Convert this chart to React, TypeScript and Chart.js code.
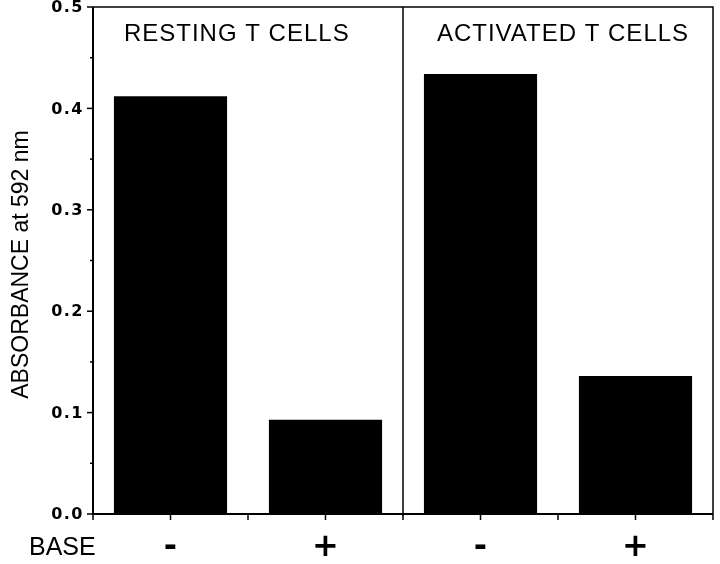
import React, { useEffect, useRef } from "react";
import { Chart, registerables } from "chart.js";

Chart.register(...registerables);

const categories = ["-", "+", "-", "+"];
const absorbance = [0.412, 0.093, 0.434, 0.136];
const yTickValues = [0.0, 0.1, 0.2, 0.3, 0.4, 0.5];
const yTickLabels = ["0.0", "0.1", "0.2", "0.3", "0.4", "0.5"];
const yMinorValues = [0.05, 0.15, 0.25, 0.35, 0.45];
const panelTitles = ["RESTING T CELLS", "ACTIVATED T CELLS"];
const yTitle = "ABSORBANCE at 592 nm";
const xRowLabel = "BASE";

const decorPlugin = {
  id: "decor",
  afterDraw(chart: any) {
    const ctx = chart.ctx as CanvasRenderingContext2D;
    const area = chart.chartArea;
    const xs = chart.scales.x;
    const ys = chart.scales.y;
    ctx.save();
    ctx.strokeStyle = "#000";
    ctx.fillStyle = "#000";

    // frame
    ctx.lineWidth = 1.5;
    ctx.beginPath();
    ctx.moveTo(area.left, area.top);
    ctx.lineTo(area.right, area.top);
    ctx.lineTo(area.right, area.bottom);
    ctx.stroke();
    ctx.lineWidth = 2;
    ctx.beginPath();
    ctx.moveTo(area.left, area.top);
    ctx.lineTo(area.left, area.bottom);
    ctx.lineTo(area.right, area.bottom);
    ctx.stroke();

    // y ticks
    ctx.lineWidth = 1.5;
    yTickValues.forEach((v) => {
      const y = ys.getPixelForValue(v);
      ctx.beginPath();
      ctx.moveTo(area.left - 6, y);
      ctx.lineTo(area.left, y);
      ctx.stroke();
    });
    yMinorValues.forEach((v) => {
      const y = ys.getPixelForValue(v);
      ctx.beginPath();
      ctx.moveTo(area.left - 3, y);
      ctx.lineTo(area.left, y);
      ctx.stroke();
    });

    // y tick labels
    ctx.font = "bold 16px 'DejaVu Sans'";
    (ctx as any).letterSpacing = "1.5px";
    ctx.textAlign = "right";
    ctx.textBaseline = "middle";
    yTickValues.forEach((v, i) => {
      const y = ys.getPixelForValue(v);
      ctx.fillText(yTickLabels[i], area.left - 9, y + 1);
    });
    (ctx as any).letterSpacing = "0px";

    // x ticks at centers and boundaries
    const n = categories.length;
    const step = n > 1 ? xs.getPixelForValue(1) - xs.getPixelForValue(0) : 0;
    const xPositions: number[] = [];
    for (let i = 0; i < n; i++) {
      const c = xs.getPixelForValue(i);
      xPositions.push(c - step / 2, c);
      if (i === n - 1) xPositions.push(c + step / 2);
    }
    ctx.lineWidth = 1.5;
    xPositions.forEach((x) => {
      ctx.beginPath();
      ctx.moveTo(x, area.bottom);
      ctx.lineTo(x, area.bottom + 6);
      ctx.stroke();
    });

    // divider between panels
    const divX = (xs.getPixelForValue(1) + xs.getPixelForValue(2)) / 2;
    ctx.lineWidth = 1.5;
    ctx.beginPath();
    ctx.moveTo(divX, area.top);
    ctx.lineTo(divX, area.bottom + 2);
    ctx.stroke();

    // panel titles
    ctx.font = "24px 'Liberation Sans', Arial, sans-serif";
    (ctx as any).letterSpacing = "1px";
    ctx.textAlign = "left";
    ctx.textBaseline = "middle";
    const barHalf = (step * 0.73) / 2;
    ctx.fillText(panelTitles[0], xs.getPixelForValue(0) - barHalf + 10, area.top + 27);
    ctx.fillText(panelTitles[1], xs.getPixelForValue(2) - barHalf + 13, area.top + 27);
    (ctx as any).letterSpacing = "0px";

    // y title
    ctx.save();
    ctx.font = "23px 'Liberation Sans', Arial, sans-serif";
    ctx.textAlign = "center";
    ctx.textBaseline = "middle";
    ctx.translate(22, (area.top + area.bottom) / 2 + 4);
    ctx.rotate(-Math.PI / 2);
    ctx.fillText(yTitle, 0, 0);
    ctx.restore();

    // BASE row label
    ctx.font = "25px 'Liberation Sans', Arial, sans-serif";
    ctx.textAlign = "left";
    ctx.textBaseline = "middle";
    ctx.fillText(xRowLabel, 29, area.bottom + 34);

    ctx.restore();
  },
};

export default function App() {
  const canvasRef = useRef<HTMLCanvasElement | null>(null);

  useEffect(() => {
    document.body.style.margin = "0";
    const canvas = canvasRef.current;
    if (!canvas) return;
    const chart = new Chart(canvas, {
      type: "bar",
      data: {
        labels: categories,
        datasets: [
          {
            data: absorbance,
            backgroundColor: "#000",
            borderWidth: 0,
            barPercentage: 0.73,
            categoryPercentage: 1.0,
          },
        ],
      },
      options: {
        responsive: false,
        animation: false,
        devicePixelRatio: 1,
        layout: { padding: { left: 0, top: 7, right: 7, bottom: 0 } },
        plugins: {
          legend: { display: false },
          tooltip: { enabled: false },
          title: { display: false },
        },
        scales: {
          x: {
            type: "category",
            grid: { display: false, drawTicks: false },
            border: { display: false },
            ticks: {
              color: "#000",
              padding: 14,
              font: { family: "'DejaVu Sans'", size: 32, weight: "bold" },
              maxRotation: 0,
              autoSkip: false,
            },
            afterFit: (scale: any) => {
              scale.height = 50;
            },
          },
          y: {
            min: 0,
            max: 0.5,
            grid: { display: false, drawTicks: false },
            border: { display: false },
            ticks: { display: false, stepSize: 0.05 },
            afterFit: (scale: any) => {
              scale.width = 93;
            },
          },
        },
      },
      plugins: [decorPlugin],
    } as any);
    return () => chart.destroy();
  }, []);

  return (
    <div style={{ width: 720, height: 564, background: "#fff" }}>
      <canvas ref={canvasRef} width={720} height={564} style={{ width: 720, height: 564, display: "block" }} />
    </div>
  );
}
